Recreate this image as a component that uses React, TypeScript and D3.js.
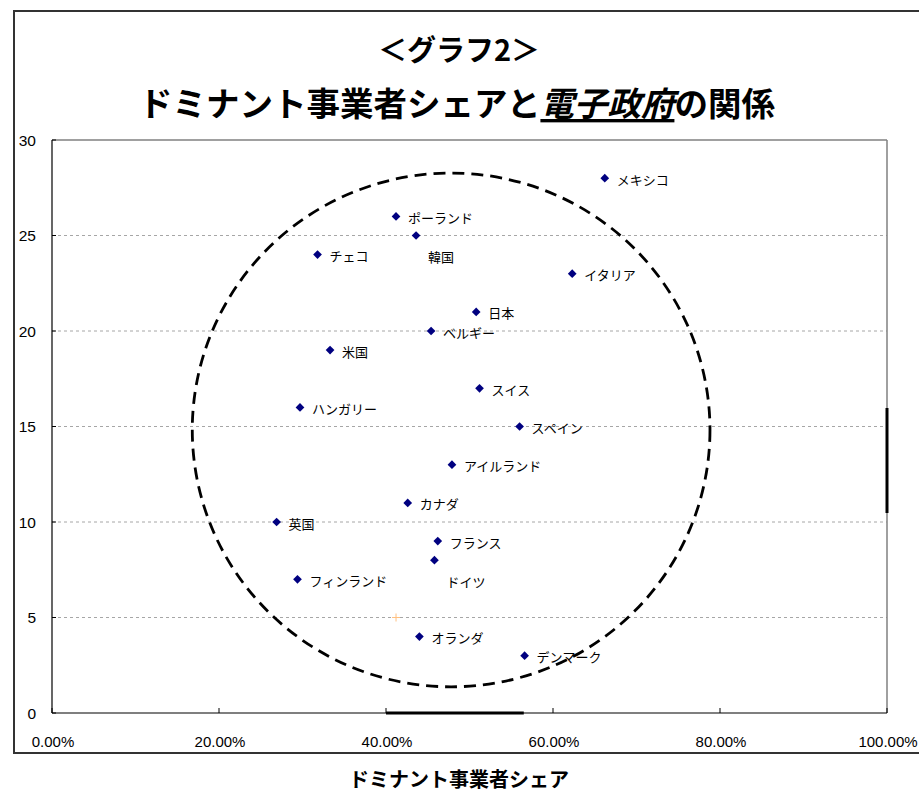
import React from "react";
import * as d3 from "d3";

const countries = ["メキシコ","ポーランド","韓国","チェコ","イタリア","日本","ベルギー","米国","スイス","ハンガリー","スペイン","アイルランド","カナダ","英国","フランス","ドイツ","フィンランド","オランダ","デンマーク"];
const dominantShare = [0.662,0.412,0.436,0.318,0.623,0.508,0.454,0.333,0.512,0.297,0.560,0.479,0.426,0.269,0.462,0.458,0.294,0.440,0.566];
const eGovScore = [28,26,25,24,23,21,20,19,17,16,15,13,11,10,9,8,7,4,3];
const labelsBelow = ["韓国","ドイツ"];
const yTicks = [0,5,10,15,20,25,30];
const xTicks = [0,0.2,0.4,0.6,0.8,1.0];
// dashed ellipse (center x, center y, radius x, radius y) in data units
const ellipseSpec = [0.478, 14.82, 0.31, 13.45];
// stray orange cross marker
const crossPoint = [0.412, 5];
// thick selection segments
const bottomSegment = [0.40, 0.565];
const rightSegment = [10.47, 15.97];

const W = 919, H = 791;
const L = 52, R = 887, T = 140, B = 713;

export default function App() {
  const x = d3.scaleLinear().domain([0, 1]).range([L, R]);
  const y = d3.scaleLinear().domain([0, 30]).range([B, T]);
  const fmt = d3.format(".2%");
  const diamond = d3.symbol().type(d3.symbolSquare).size(38)() as string;

  const [ecx, ecy, erx, ery] = ellipseSpec;
  const jp = "'Noto Sans CJK JP', sans-serif";

  return (
    <svg width={W} height={H} style={{ position: "absolute", left: 0, top: 0, background: "#fff" }}>
      {/* outer frame */}
      <rect x={14} y={11} width={W} height={742} fill="#fff" stroke="#333" strokeWidth={2} />
      {/* title */}
      <text x={459} y={48} textAnchor="middle" dominantBaseline="central" fontFamily={jp} fontWeight="bold" fontSize={29} fill="#000">＜グラフ2＞</text>
      <text x={457} y={101} textAnchor="middle" dominantBaseline="central" fontFamily={jp} fontWeight="bold" fontSize={33.5} fill="#000">
        ドミナント事業者シェアと<tspan fontStyle="italic" textDecoration="underline">電子政府</tspan>の関係
      </text>
      {/* grid lines */}
      {yTicks.filter(t => t > 0 && t < 30).map(t => (
        <line key={t} x1={L} x2={R} y1={y(t)} y2={y(t)} stroke="#a6a6a6" strokeDasharray="3,3" strokeWidth={1} />
      ))}
      {/* plot border */}
      <line x1={L} x2={R} y1={T} y2={T} stroke="#808080" strokeWidth={1.5} />
      <line x1={R} x2={R} y1={T} y2={B} stroke="#808080" strokeWidth={1.5} />
      <line x1={L} x2={L} y1={T} y2={B} stroke="#000" strokeWidth={1.2} />
      <line x1={L} x2={R} y1={B} y2={B} stroke="#000" strokeWidth={1.2} />
      {/* y ticks */}
      {yTicks.map(t => (
        <g key={t}>
          <line x1={L} x2={L + 4} y1={y(t)} y2={y(t)} stroke="#000" />
          <text x={36} y={y(t)} textAnchor="end" dominantBaseline="central" fontFamily="'Liberation Sans', Arial, sans-serif" fontSize={15.5} fill="#000">{t}</text>
        </g>
      ))}
      {/* x ticks */}
      {xTicks.map(t => (
        <g key={t}>
          <line x1={x(t)} x2={x(t)} y1={B} y2={B - 5} stroke="#000" />
          <text x={x(t) + 1} y={741} textAnchor="middle" dominantBaseline="central" fontFamily="'Liberation Sans Narrow', 'Arial Narrow', 'Liberation Sans', sans-serif" fontSize={15} fill="#000">{fmt(t)}</text>
        </g>
      ))}
      {/* x axis title */}
      <text x={459} y={778} textAnchor="middle" dominantBaseline="central" fontFamily={jp} fontWeight="bold" fontSize={20} fill="#000">ドミナント事業者シェア</text>
      {/* thick segments */}
      <line x1={x(bottomSegment[0])} x2={x(bottomSegment[1])} y1={B} y2={B} stroke="#000" strokeWidth={3} />
      <line x1={R} x2={R} y1={y(rightSegment[0])} y2={y(rightSegment[1])} stroke="#000" strokeWidth={3} />
      {/* ellipse */}
      <ellipse cx={x(ecx)} cy={y(ecy)} rx={x(erx) - x(0)} ry={y(0) - y(ery)} fill="none" stroke="#000" strokeWidth={2.8} strokeDasharray="12,7" />
      {/* cross */}
      <g stroke="#ffc080" strokeWidth={1}>
        <line x1={x(crossPoint[0]) - 4} x2={x(crossPoint[0]) + 4} y1={y(crossPoint[1])} y2={y(crossPoint[1])} />
        <line x1={x(crossPoint[0])} x2={x(crossPoint[0])} y1={y(crossPoint[1]) - 4} y2={y(crossPoint[1]) + 4} />
      </g>
      {/* points */}
      {countries.map((c, i) => {
        const px = x(dominantShare[i]);
        const py = y(eGovScore[i]);
        const below = labelsBelow.includes(c);
        return (
          <g key={c}>
            <path d={diamond} transform={`translate(${px},${py}) rotate(45)`} fill="#000080" />
            <text x={px + 12} y={py + (below ? 21 : 1)} dominantBaseline="central" fontFamily={jp} fontSize={13} fill="#000">{c}</text>
          </g>
        );
      })}
    </svg>
  );
}
